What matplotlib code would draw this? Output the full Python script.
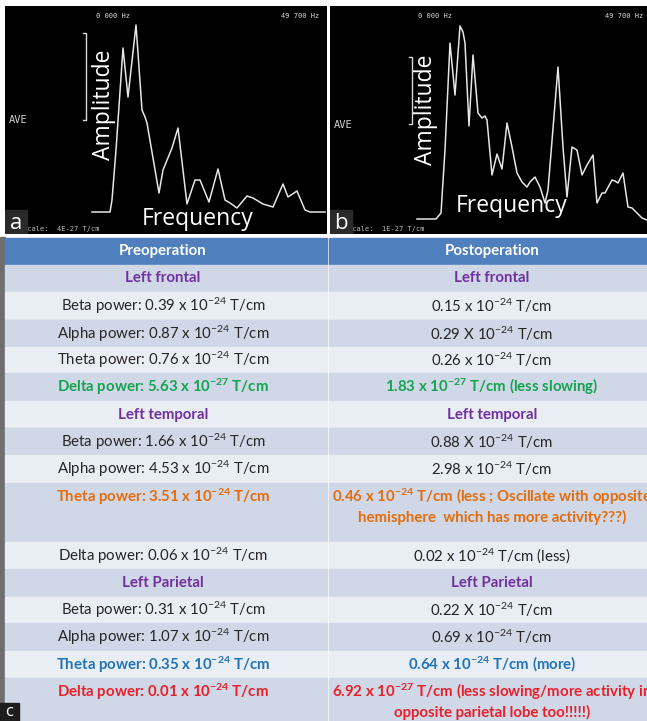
import re
import matplotlib
matplotlib.use("Agg")
import matplotlib.pyplot as plt
from matplotlib.patches import Rectangle

plt.rcParams["font.family"] = ["Lato", "DejaVu Sans"]
plt.rcParams["mathtext.fontset"] = "custom"
plt.rcParams["mathtext.rm"] = "Lato"
plt.rcParams["mathtext.it"] = "Lato:italic"
plt.rcParams["mathtext.bf"] = "Lato:bold"

# spectra (panel units, arbitrary amplitude)
FREQ_A = [87, 105, 107, 111, 118, 123, 131, 137, 140, 142, 154, 158, 167, 173, 182, 190,
          195, 204, 213, 220, 225, 232, 242, 248, 258, 268, 278, 283, 292, 300, 305, 320]
AMP_A = [21, 21, 33, 83, 185, 136, 208, 123, 116, 110, 40, 63, 85, 105, 29, 53,
         53, 31, 64, 33, 30, 25, 37, 35, 29, 26, 49, 36, 42, 23, 21, 21]
FREQ_B = [87, 106, 111, 115, 120, 125, 130, 133, 135, 139, 143, 148, 152, 155, 157, 162,
          167, 172, 177, 182, 187, 192, 197, 200, 205, 210, 215, 218, 228, 233, 237, 242,
          247, 252, 257, 263, 267, 272, 275, 282, 285, 288, 293, 298, 302, 307, 312, 317]
AMP_B = [14, 14, 20, 83, 190, 138, 207, 201, 190, 107, 178, 120, 115, 117, 113, 58,
         79, 64, 110, 86, 60, 51, 46, 51, 56, 46, 30, 43, 166, 86, 36, 86,
         83, 58, 68, 78, 30, 40, 40, 53, 52, 50, 60, 26, 25, 20, 15, 13]
SCALE_A = "scale:  4E-27 T/cm"
SCALE_B = "scale:  1E-27 T/cm"

HEADERS = ["Preoperation", "Postoperation"]
ROW_PRE = ["Left frontal", "Beta power: 0.39 x 10^-24 T/cm", "Alpha power: 0.87 x 10^-24 T/cm",
           "Theta power: 0.76 x 10^-24 T/cm", "Delta power: 5.63 x 10^-27 T/cm",
           "Left temporal", "Beta power: 1.66 x 10^-24 T/cm", "Alpha power: 4.53 x 10^-24 T/cm",
           "Theta power: 3.51 x 10^-24 T/cm", "Delta power: 0.06 x 10^-24 T/cm",
           "Left Parietal", "Beta power: 0.31 x 10^-24 T/cm", "Alpha power: 1.07 x 10^-24 T/cm",
           "Theta power: 0.35 x 10^-24 T/cm", "Delta power: 0.01 x 10^-24 T/cm"]
ROW_POST = ["Left frontal", "0.15 x 10^-24 T/cm", "0.29 X 10^-24 T/cm", "0.26 x 10^-24 T/cm",
            "1.83 x 10^-27 T/cm (less slowing)",
            "Left temporal", "0.88 X 10^-24 T/cm", "2.98 x 10^-24 T/cm",
            "0.46 x 10^-24 T/cm (less ; Oscillate with opposite\nhemisphere  which has more activity???)",
            "0.02 x 10^-24 T/cm (less)",
            "Left Parietal", "0.22 X 10^-24 T/cm", "0.69 x 10^-24 T/cm", "0.64 x 10^-24 T/cm (more)",
            "6.92 x 10^-27 T/cm (less slowing/more activity in\nopposite parietal lobe too!!!!!)"]
ROW_KIND = ["region", "plain", "plain", "plain", "green",
            "region", "plain", "plain", "orange", "plain",
            "region", "plain", "plain", "blue", "red"]

KIND_STYLE = {"region": ("#7030a0", "bold"), "plain": ("#262626", "normal"),
              "green": ("#16a34f", "bold"), "orange": ("#e46c0a", "bold"),
              "blue": ("#2274b6", "bold"), "red": ("#e8202a", "bold")}
HEAD_C, DARK_C, LIGHT_C = "#4f7fbd", "#d0d8e8", "#e9edf4"
W, H = 647, 721
ROW_TOPS = [238, 265, 292, 320, 347, 373, 401, 428, 455, 483, 542, 569, 597, 623, 651, 678, 740]
COL_X = [5, 328, 652]
TXT_X = [163, 492]
FS = 10.8


def sup(s, bold):
    if bold:
        return re.sub(r"\^(-\d+)", lambda m: r"$^{\mathbf{%s}}$" % m.group(1), s)
    return re.sub(r"\^(-\d+)", lambda m: r"$^{%s}$" % m.group(1), s)


fig = plt.figure(figsize=(W / 100, H / 100), dpi=100, facecolor="white")


def screen(rect, freq, amp, xmax, label, scale, hz_x, ave_y, br, amp_xy, fr_xy):
    ax = fig.add_axes([rect[0] / W, 1 - rect[3] / H, (rect[2] - rect[0]) / W, (rect[3] - rect[1]) / H])
    ax.set_facecolor("black")
    ax.set_xlim(0, xmax); ax.set_ylim(-1, rect[3] - rect[1] - 1)
    ax.set_xticks([]); ax.set_yticks([])
    for s in ax.spines.values():
        s.set_visible(False)
    ax.plot(freq, amp, color="#e6e6e6", lw=1.1)
    top = rect[3] - rect[1] - 11
    ax.text(hz_x[0], top, "0 000 Hz", color="#d8d8d8", fontsize=5, family="DejaVu Sans Mono",
            ha="center", va="center")
    ax.text(hz_x[1], top, "49 700 Hz", color="#d8d8d8", fontsize=5, family="DejaVu Sans Mono",
            ha="center", va="center", clip_on=True)
    ax.text(4, ave_y, "AVE", color="#d0d0d0", fontsize=7.5, family="DejaVu Sans Mono", va="center")
    ax.plot([br[0] - 3, br[0], br[0], br[0] - 3], [br[2], br[2], br[1], br[1]], color="#d8d8d8", lw=1)
    ax.text(amp_xy[0], amp_xy[1], "Amplitude", color="white", fontsize=16.5, rotation=90,
            ha="center", va="center", family="Open Sans")
    ax.text(fr_xy[0], fr_xy[1], "Frequency", color="white", fontsize=16.5,
            ha="center", va="center", family="Open Sans")
    ax.text(18, 4, scale, color="#bbbbbb", fontsize=5, family="DejaVu Sans Mono", va="center",
            clip_on=True)
    ax.add_patch(Rectangle((0, -1), 22, 24, color="#2a2a2a", zorder=3))
    ax.text(11, 10, label, color="white", fontsize=16, ha="center", va="center", zorder=4,
            family="Open Sans")
    return ax


screen((5, 6, 327, 234), FREQ_A, AMP_A, 322, "a", SCALE_A, (108, 295), 113, (81, 113, 200),
       (99, 128), (193, 14))
screen((330, 6, 647, 234), FREQ_B, AMP_B, 317, "b", SCALE_B, (105, 294), 108, (82, 109, 176),
       (96, 123), (182, 27))

tab = fig.add_axes([0, 0, 1, 1])
tab.set_xlim(0, W); tab.set_ylim(H, 0); tab.axis("off")
tab.add_patch(Rectangle((0, 237), 5, H - 237, color="#6e6e6e"))

for j in range(2):
    x0, x1 = COL_X[j] + (0.8 if j else 0), COL_X[j + 1] - (0.8 if j == 0 else 0)
    cx = TXT_X[j]
    tab.add_patch(Rectangle((x0, ROW_TOPS[0]), x1 - x0, ROW_TOPS[1] - ROW_TOPS[0] - 1, color=HEAD_C))
    tab.text(cx, (ROW_TOPS[0] + ROW_TOPS[1]) / 2, HEADERS[j], color="white", fontsize=FS,
             weight="bold", ha="center", va="center")
    texts = ROW_PRE if j == 0 else ROW_POST
    for i, (txt, kind) in enumerate(zip(texts, ROW_KIND)):
        t0, t1 = ROW_TOPS[i + 1], ROW_TOPS[i + 2]
        tab.add_patch(Rectangle((x0, t0), x1 - x0, t1 - t0 - 1, color=DARK_C if i % 2 == 0 else LIGHT_C))
        color, weight = KIND_STYLE[kind]
        lines = txt.split("\n")
        multi = (t1 - t0) > 40
        for k, line in enumerate(lines):
            y = t0 + 14 + 20 * k if multi else (t0 + t1) / 2
            tab.text(cx, y, sup(line, weight == "bold"), color=color, fontsize=FS, weight=weight,
                     ha="center", va="center")

tab.add_patch(Rectangle((0, 703), 19, H - 703, color="#1e1e1e", zorder=5))
tab.text(9.5, 712, "c", color="white", fontsize=12, ha="center", va="center", zorder=6,
         family="Open Sans")

fig.savefig("out.png", dpi=100, facecolor="white")
